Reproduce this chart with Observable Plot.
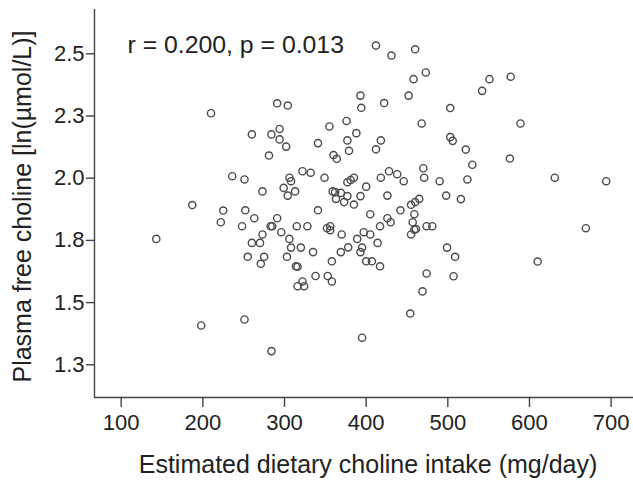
<!DOCTYPE html>
<html>
<head>
<meta charset="utf-8">
<script src="https://cdn.jsdelivr.net/npm/d3@7"></script>
<script src="https://cdn.jsdelivr.net/npm/@observablehq/plot@0.6"></script>
<style>
  html, body { margin: 0; padding: 0; background: #fff; }
  svg text { font-family: "Liberation Sans", Arial, sans-serif; }
</style>
</head>
<body>
<div id="chart"></div>
<script>
// Estimated dietary choline intake (mg/day)
const intake = [
  210, 291, 304, 393, 394, 412, 431, 460, 473, 458,
  452, 422, 468, 503, 551, 577, 542, 589, 376, 355,
  388, 377, 379, 341, 418, 412, 360, 364, 294, 284,
  260, 294, 302, 281, 503, 506, 522, 530, 576, 470,
  471, 490, 524, 631, 694, 428, 438, 446, 418, 426,
  498, 516, 400, 385, 381, 377, 393, 377, 322, 332,
  349, 306, 308, 299, 313, 304, 273, 359, 362, 369,
  236, 251, 187, 455, 460, 465, 363, 373, 385,
  143, 225, 252, 222, 248, 263, 291, 283, 285, 273,
  260, 270, 255, 275, 271, 251, 198, 284, 296, 315,
  328, 306, 308, 320, 303, 335, 314, 316, 341, 352,
  356, 356, 370, 358, 369, 378, 389, 397, 395, 393,
  338, 353, 358, 322, 316, 324, 405, 426, 430, 417,
  405, 414, 400, 407, 417, 442, 459, 457, 459, 461,
  455, 474, 481, 499, 509, 507, 474, 469, 454, 395,
  669, 610
];
// Plasma free choline [ln(µmol/L)]
const choline = [
  2.261, 2.301, 2.292, 2.332, 2.283, 2.533, 2.493, 2.518, 2.425, 2.398,
  2.332, 2.302, 2.220, 2.282, 2.398, 2.408, 2.351, 2.220, 2.230, 2.208,
  2.181, 2.152, 2.110, 2.141, 2.152, 2.116, 2.093, 2.078, 2.198, 2.176,
  2.176, 2.156, 2.127, 2.091, 2.165, 2.150, 2.115, 2.054, 2.079, 2.040,
  2.002, 1.988, 1.995, 2.002, 1.988, 2.028, 2.016, 1.988, 2.002, 1.930,
  1.930, 1.916, 1.966, 2.002, 1.993, 1.984, 1.928, 1.928, 2.028, 2.022,
  2.002, 2.002, 1.988, 1.961, 1.947, 1.930, 1.947, 1.947, 1.944, 1.941,
  2.008, 1.995, 1.892, 1.893, 1.904, 1.917, 1.917, 1.904, 1.894,
  1.756, 1.870, 1.871, 1.823, 1.807, 1.839, 1.839, 1.807, 1.807, 1.774,
  1.740, 1.740, 1.684, 1.684, 1.656, 1.432, 1.408, 1.305, 1.783, 1.807,
  1.807, 1.756, 1.721, 1.721, 1.684, 1.703, 1.646, 1.644, 1.871, 1.799,
  1.807, 1.791, 1.774, 1.666, 1.703, 1.722, 1.756, 1.783, 1.721, 1.703,
  1.607, 1.607, 1.585, 1.585, 1.566, 1.566, 1.855, 1.839, 1.823, 1.807,
  1.774, 1.740, 1.666, 1.666, 1.646, 1.871, 1.855, 1.823, 1.793, 1.796,
  1.774, 1.807, 1.807, 1.721, 1.684, 1.606, 1.617, 1.545, 1.456, 1.359,
  1.799, 1.665
];

const xTicks = [100, 200, 300, 400, 500, 600, 700];
const yTicks = [1.25, 1.5, 1.75, 2.0, 2.25, 2.5];
const yTickLabels = ["1.3", "1.5", "1.8", "2.0", "2.3", "2.5"];
const xDomain = [67.3, 727.4];
const yDomain = [1.1186, 2.678];
const xTitle = "Estimated dietary choline intake (mg/day)";
const yTitle = "Plasma free choline [ln(\u00b5mol/L)]";
const annotation = ["r = 0.200, p = 0.013"];

const data = intake.map((v, i) => ({intake: v, choline: choline[i]}));

const axisColor = "#444";
const textColor = "#222";

const chart = Plot.plot({
  width: 633,
  height: 480,
  marginLeft: 94,
  marginRight: 0,
  marginTop: 9,
  marginBottom: 83,
  style: {fontFamily: "'Liberation Sans', Arial, sans-serif", color: textColor, background: "#fff"},
  x: {domain: xDomain},
  y: {domain: yDomain},
  marks: [
    Plot.ruleX([xDomain[0]], {stroke: axisColor, strokeWidth: 1.4}),
    Plot.ruleY([yDomain[0]], {stroke: axisColor, strokeWidth: 1.4}),
    Plot.axisX(xTicks, {tickSize: 10, tickPadding: 7, fontSize: 22, stroke: axisColor, strokeWidth: 1.4, fill: textColor, label: null}),
    Plot.axisY(yTicks, {tickSize: 8, tickPadding: 2, fontSize: 22, stroke: axisColor, strokeWidth: 1.4, fill: textColor, tickFormat: (d, i) => yTickLabels[yTicks.indexOf(d)], label: null}),
    Plot.dot(data, {x: "intake", y: "choline", r: 3.6, stroke: "#4a4a4a", strokeWidth: 1.4, fill: "none"}),
    Plot.text(annotation, {frameAnchor: "top-left", textAnchor: "start", lineAnchor: "middle", dx: 33, dy: 36, fontSize: 24.8, fill: textColor}),
    Plot.text([xTitle], {frameAnchor: "bottom", textAnchor: "middle", lineAnchor: "middle", dx: 4, dy: 67, fontSize: 25, fill: textColor}),
    Plot.text([yTitle], {frameAnchor: "left", textAnchor: "middle", lineAnchor: "middle", dx: -72, dy: 3, rotate: -90, fontSize: 25, fill: textColor})
  ]
});
document.getElementById("chart").appendChild(chart);
</script>
</body>
</html>
